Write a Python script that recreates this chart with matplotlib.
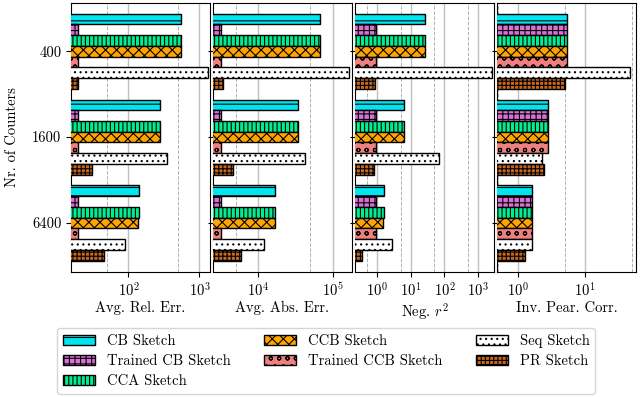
import numpy as np
import matplotlib
matplotlib.use("Agg")
import matplotlib.pyplot as plt
from matplotlib.ticker import LogLocator, NullFormatter

plt.rcParams.update({
    "font.family": "serif",
    "font.serif": ["cmr10"],
    "mathtext.fontset": "cm",
    "axes.formatter.use_mathtext": True,
    "font.size": 10.5,
    "hatch.linewidth": 0.8,
})

counters = ["400", "1600", "6400"]
sketches = ["CB Sketch", "Trained CB Sketch", "CCA Sketch", "CCB Sketch",
            "Trained CCB Sketch", "Seq Sketch", "PR Sketch"]
colors = ["#00e5ee", "#da70d6", "#00ee90", "#ffa500", "#f08080", "white", "#c8661c"]
hatches = ["--", "+++", "||||", "xxx", "oo", "...", "++++"]

metric_labels = ["Avg. Rel. Err.", "Avg. Abs. Err.", "Neg. $r^2$", "Inv. Pear. Corr."]

# values per sketch, one entry per counter size (400, 1600, 6400)
rel_err = [
    [541, 280, 139],
    [19.7, 19.6, 19.7],
    [541, 280, 139],
    [541, 275, 136],
    [19.6, 19.7, 19.6],
    [1300, 349, 89.4],
    [19.6, 30.6, 44.8],
]
abs_err = [
    [68000, 34000, 16800],
    [3130, 3130, 3100],
    [68000, 34000, 16800],
    [68000, 33600, 16800],
    [3130, 3130, 3100],
    [164000, 42700, 11900],
    [3370, 4600, 5820],
]
neg_r2 = [
    [25.5, 6.3, 1.59],
    [0.95, 0.95, 0.95],
    [25.5, 6.3, 1.59],
    [25.5, 6.3, 1.51],
    [0.95, 0.95, 0.95],
    [2520, 70, 2.7],
    [0.85, 0.81, 0.36],
]
inv_pear = [
    [5.39, 2.77, 1.62],
    [5.39, 2.77, 1.62],
    [5.39, 2.77, 1.62],
    [5.39, 2.77, 1.62],
    [5.39, 2.77, 1.62],
    [46, 2.29, 1.64],
    [4.93, 2.48, 1.27],
]
metrics = [rel_err, abs_err, neg_r2, inv_pear]
xlims = [(15.5, 1400), (2466, 1.8e5), (0.224, 2960), (0.493, 57.6)]

fig, axes = plt.subplots(1, 4, figsize=(6.4, 3.97), dpi=100, sharey=True)
fig.subplots_adjust(left=0.111, right=0.994, top=0.992, bottom=0.315, wspace=0.024)

h = 0.125
ypos = np.arange(len(counters))
for ax, data, label, lim in zip(axes, metrics, metric_labels, xlims):
    ax.set_xscale("log")
    for i, vals in enumerate(data):
        ax.barh(ypos + (i - 3) * h, vals, height=h, color=colors[i],
                hatch=hatches[i], edgecolor="black", linewidth=1.0,
                label=sketches[i], zorder=3)
    ax.set_xlim(*lim)
    ax.xaxis.set_major_locator(LogLocator(base=10, numticks=20))
    ax.xaxis.set_minor_locator(LogLocator(base=10, subs=[5], numticks=20))
    ax.xaxis.set_minor_formatter(NullFormatter())
    ax.tick_params(axis="x", which="minor", length=0)
    ax.grid(True, which="major", axis="x", color="#c0c0c0", lw=1.0, zorder=0)
    ax.grid(True, which="minor", axis="x", color="#b0b0b0", lw=0.7, ls="--", zorder=0)
    ax.set_xlabel(label, labelpad=1)

axes[0].set_yticks(ypos)
axes[0].set_yticklabels(counters)
axes[0].set_ylim(2.57, -0.56)
axes[0].set_ylabel("Nr. of Counters", labelpad=9)

handles, labels = axes[0].get_legend_handles_labels()
fig.legend(handles, labels, ncol=3, loc="upper left",
           bbox_to_anchor=(0.078, 0.192), handlelength=2.2,
           labelspacing=0.45, columnspacing=2.3, fontsize=10.5)

fig.savefig("out.png", dpi=100)
